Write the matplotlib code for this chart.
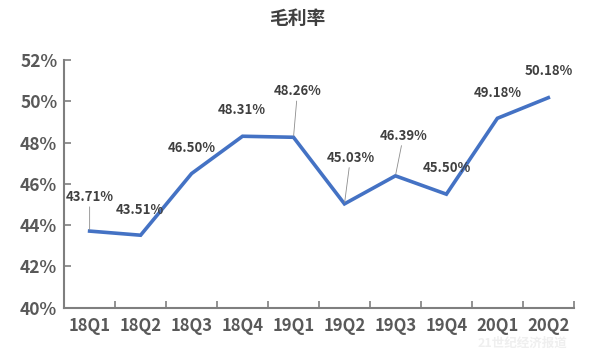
import numpy as np
import matplotlib.pyplot as plt

plt.rcParams['font.family'] = ['Noto Sans CJK SC', 'DejaVu Sans']

quarters = ['18Q1', '18Q2', '18Q3', '18Q4', '19Q1', '19Q2', '19Q3', '19Q4', '20Q1', '20Q2']
margin = [43.71, 43.51, 46.50, 48.31, 48.26, 45.03, 46.39, 45.50, 49.18, 50.18]
# label offsets in pixels, and whether a leader line is drawn
label_dx = [0, -1, 0, -1, 4, 6, 8, 0, 0, 0]
label_dy = [27, 18, 19, 19, 39, 39, 33, 19, 18, 20]
leader = [True, False, False, False, True, True, True, False, False, False]

fig = plt.figure(figsize=(5.94, 3.56), dpi=100)
ax = fig.add_axes([0.108, 0.136, 0.858, 0.695])

x = np.arange(len(quarters))
ax.plot(x, margin, color='#4472C4', lw=2.6, solid_joinstyle='miter')

for i, v in enumerate(margin):
    kw = {}
    if leader[i]:
        kw['arrowprops'] = dict(arrowstyle='-', color='#8c8c8c', lw=0.6,
                                shrinkA=0, shrinkB=1)
    ax.annotate('%.2f%%' % v, (i, v), xytext=(label_dx[i], label_dy[i]),
                textcoords='offset pixels', ha='center', va='bottom',
                fontsize=9.5, fontweight='bold', color='#404040', **kw)

ax.set_xlim(-0.5, 9.5)
ax.set_ylim(40, 52)
ax.set_yticks(np.arange(40, 53, 2))
ax.set_yticklabels(['%d%%' % t for t in range(40, 53, 2)])
ax.set_xticks(x)
ax.set_xticklabels(quarters)
ax.set_xticks(np.arange(0.5, 10, 1), minor=True)

for s in ['top', 'right']:
    ax.spines[s].set_visible(False)
for s in ['left', 'bottom']:
    ax.spines[s].set_color('#7f7f7f')
    ax.spines[s].set_linewidth(1.5)

ax.tick_params(axis='x', which='major', length=0, pad=7, labelsize=12, labelcolor='#595959')
ax.tick_params(axis='x', which='minor', direction='in', length=5, width=1.2, color='#7f7f7f')
ax.tick_params(axis='y', direction='in', length=5, width=1.2, color='#7f7f7f',
               labelsize=12.5, labelcolor='#595959', pad=5)
for lab in ax.get_xticklabels() + ax.get_yticklabels():
    lab.set_fontweight('bold')

fig.text(0.5, 0.948, '毛利率', ha='center', va='center', fontsize=13.5,
         fontweight='bold', color='#404040')
fig.text(0.88, 0.035, '21世纪经济报道', ha='center', va='center', fontsize=9,
         fontweight='bold', color='#ebebeb', alpha=0.8)

fig.savefig('out.png', dpi=100)
